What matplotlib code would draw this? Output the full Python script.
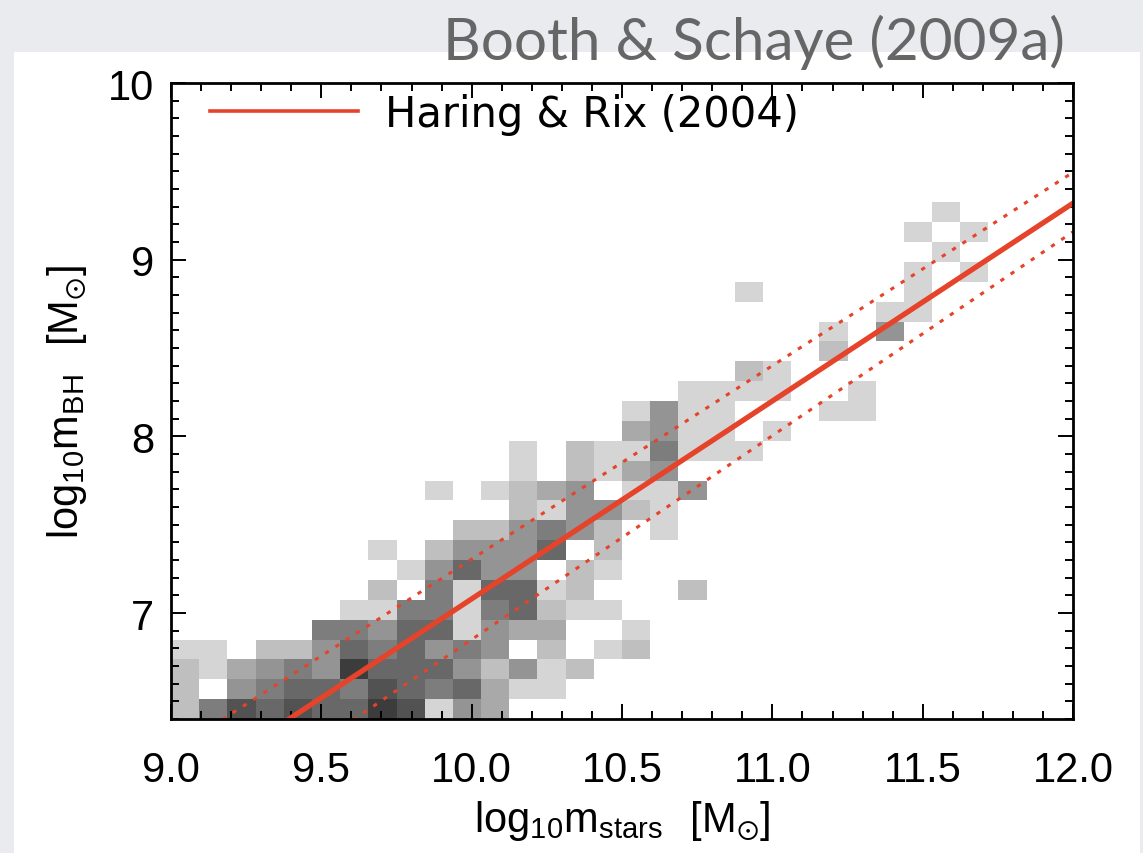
import numpy as np
import matplotlib
matplotlib.use("Agg")
import matplotlib.pyplot as plt
from matplotlib.colors import LinearSegmentedColormap
from matplotlib.patches import Rectangle
from matplotlib.ticker import MultipleLocator

# simulated galaxies, binned: bin centre in log10 m_stars, log10 m_BH, and count level
log_mstar = [
    9.047, 9.141, 9.234, 9.328, 9.422, 9.516, 9.609, 9.703, 9.797, 9.891, 9.984, 10.078,             # 6.46
    9.047, 9.234, 9.328, 9.422, 9.516, 9.609, 9.703, 9.797, 9.891, 9.984, 10.078, 10.172, 10.266,    # 6.57
    9.047, 9.141, 9.234, 9.328, 9.422, 9.516, 9.609, 9.703, 9.797, 9.891, 9.984, 10.078, 10.172,
    10.266, 10.359,                                                                                   # 6.68
    9.047, 9.141, 9.328, 9.422, 9.516, 9.609, 9.703, 9.797, 9.891, 9.984, 10.078, 10.266, 10.453,
    10.547,                                                                                           # 6.79
    9.516, 9.609, 9.703, 9.797, 9.891, 9.984, 10.078, 10.172, 10.266, 10.547,                        # 6.91
    9.609, 9.703, 9.797, 9.891, 9.984, 10.078, 10.172, 10.266, 10.359, 10.453,                       # 7.02
    9.703, 9.891, 9.984, 10.078, 10.172, 10.266, 10.359, 10.734,                                     # 7.13
    9.797, 9.891, 9.984, 10.078, 10.172, 10.359, 10.453,                                             # 7.24
    9.703, 9.891, 9.984, 10.078, 10.172, 10.266, 10.453,                                             # 7.36
    9.984, 10.078, 10.172, 10.266, 10.359, 10.453, 10.641,                                           # 7.47
    10.172, 10.266, 10.359, 10.453, 10.547, 10.641,                                                  # 7.58
    9.891, 10.078, 10.172, 10.266, 10.359, 10.547, 10.641, 10.734,                                   # 7.69
    10.172, 10.359, 10.453, 10.547, 10.641,                                                          # 7.81
    10.172, 10.359, 10.453, 10.547, 10.641, 10.734, 10.828, 10.922,                                  # 7.92
    10.547, 10.641, 10.734, 10.828, 11.016,                                                          # 8.03
    10.547, 10.641, 10.734, 10.828, 11.203, 11.297,                                                  # 8.14
    10.734, 10.828, 10.922, 11.016, 11.297,                                                          # 8.26
    10.922, 11.016,                                                                                  # 8.37
    11.203,                                                                                          # 8.48
    11.203, 11.391,                                                                                  # 8.59
    11.391, 11.484,                                                                                  # 8.71
    10.922, 11.484,                                                                                  # 8.82
    11.484, 11.672,                                                                                  # 8.93
    11.578,                                                                                          # 9.04
    11.484, 11.672,                                                                                  # 9.16
    11.578,                                                                                          # 9.27
]
log_mbh = (
    [6.456] * 12 + [6.569] * 13 + [6.681] * 15 + [6.794] * 14 + [6.906] * 10
    + [7.019] * 10 + [7.131] * 8 + [7.244] * 7 + [7.356] * 7 + [7.469] * 7
    + [7.581] * 6 + [7.694] * 8 + [7.806] * 5 + [7.919] * 8 + [8.031] * 5
    + [8.144] * 6 + [8.256] * 5 + [8.369] * 2 + [8.481] * 1 + [8.594] * 2
    + [8.706] * 2 + [8.819] * 2 + [8.931] * 2 + [9.044] * 1 + [9.156] * 2
    + [9.269] * 1
)
n_gal = [
    2, 5, 7, 6, 7, 6, 6, 8, 7, 1, 4, 3,
    2, 4, 5, 6, 6, 5, 7, 6, 5, 6, 3, 1, 1,
    2, 1, 3, 4, 5, 4, 8, 6, 6, 6, 4, 2, 4, 1, 2,
    1, 1, 2, 2, 4, 6, 5, 6, 4, 5, 4, 2, 1, 2,
    5, 5, 4, 6, 6, 1, 4, 3, 3, 1,
    1, 1, 5, 5, 1, 5, 6, 2, 1, 1,
    2, 5, 1, 6, 6, 1, 2, 2,
    1, 4, 6, 4, 4, 2, 1,
    1, 2, 4, 4, 4, 6, 2,
    2, 2, 4, 5, 4, 2, 1,
    2, 1, 4, 4, 2, 1,
    1, 1, 2, 3, 4, 1, 1, 4,
    1, 2, 1, 3, 4,
    1, 2, 1, 1, 5, 1, 1, 1,
    3, 4, 1, 1, 1,
    1, 4, 1, 1, 1, 1,
    1, 1, 1, 1, 1,
    2, 1,
    2,
    1, 4,
    1, 1,
    1, 1,
    1, 1,
    1,
    1, 1,
    1,
]

# Haring & Rix (2004) relation and the dotted band, as (value at log m_stars = 11, slope)
hr_norm, hr_slope = 8.20, 1.12
upper_norm, upper_slope = 8.40, 1.095
lower_norm, lower_slope = 8.004, 1.154

red = "#e5432a"
plt.rcParams["font.family"] = ["Liberation Sans", "DejaVu Sans"]
plt.rcParams["mathtext.fontset"] = "custom"
plt.rcParams["mathtext.rm"] = "Liberation Sans"

fig = plt.figure(figsize=(11.43, 8.54), dpi=100, facecolor="#e9ebef")
fig.patches.append(Rectangle((0.0122, 0), 0.9852, 0.938, transform=fig.transFigure,
                             facecolor="white", edgecolor="none", zorder=-5))
ax = fig.add_axes([0.1496, 0.1569, 0.7892, 0.7447])

cmap = LinearSegmentedColormap.from_list("grays", ["#d5d5d5", "#3c3c3c"])
x_edges = np.linspace(9.0, 12.0, 33)
y_edges = np.linspace(6.4, 10.0, 33)
ax.hist2d(log_mstar, log_mbh, bins=[x_edges, y_edges], weights=n_gal,
          cmap=cmap, vmin=1, vmax=8, cmin=0.5)

ax.set_xlim(9.0, 12.0)
ax.set_ylim(6.4, 10.0)
xf = np.array(ax.get_xlim())
ax.plot(xf, hr_norm + hr_slope * (xf - 11), color=red, lw=3.8, label="Haring & Rix (2004)")
ax.plot(xf, upper_norm + upper_slope * (xf - 11), color=red, lw=2.2, dashes=(1.4, 2.6))
ax.plot(xf, lower_norm + lower_slope * (xf - 11), color=red, lw=2.2, dashes=(1.4, 2.6))

ax.xaxis.set_major_locator(MultipleLocator(0.5))
ax.xaxis.set_minor_locator(MultipleLocator(0.1))
ax.yaxis.set_major_locator(MultipleLocator(1))
ax.yaxis.set_minor_locator(MultipleLocator(0.1))
ax.xaxis.set_major_formatter(lambda v, p: "%.1f" % v)
ax.yaxis.set_major_formatter(lambda v, p: "%d" % v)
ax.tick_params(which="both", direction="in", top=True, right=True, width=1.4, labelsize=30)
ax.tick_params(which="major", length=11)
ax.tick_params(which="minor", length=5.5)
ax.tick_params(axis="x", pad=22)
ax.tick_params(axis="y", pad=12)
for s in ax.spines.values():
    s.set_linewidth(2)

ax.set_xlabel(r"$\mathregular{log_{10}m_{stars}\ \ [M_{\odot}]}$", fontsize=30, labelpad=6)
ax.set_ylabel(r"$\mathregular{log_{10}m_{BH}\ \ [M_{\odot}]}$", fontsize=30, labelpad=14)

leg = ax.legend(loc="upper left", bbox_to_anchor=(0.043, 0.985), frameon=False,
                prop={"family": "DejaVu Sans", "size": 30}, handlelength=3.55,
                handletextpad=0.65, borderaxespad=0, borderpad=0)
leg.get_lines()[0].set_linewidth(2.6)

fig.text(0.932, 0.9297, "Booth & Schaye (2009a)", ha="right", va="baseline",
         fontsize=42, color="#666666", family=["Lato", "DejaVu Sans"])

plt.savefig("out.png", dpi=100, facecolor=fig.get_facecolor())
